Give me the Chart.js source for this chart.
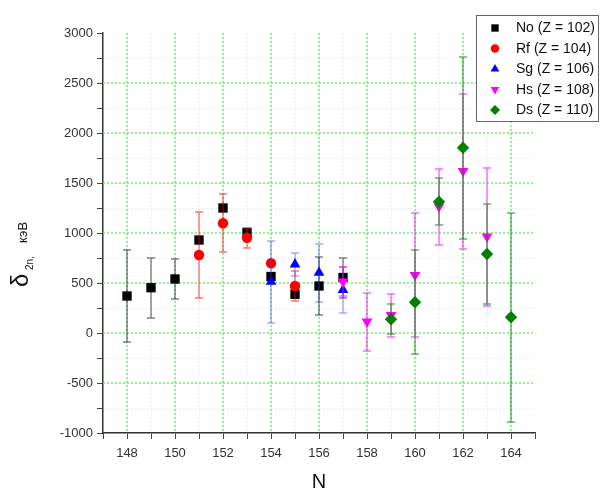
<!DOCTYPE html>
<html>
<head>
<meta charset="utf-8">
<script src="https://cdn.jsdelivr.net/npm/chart.js@4/dist/chart.umd.min.js"></script>
<style>
body { margin: 0; background: #fff; }
canvas { display: block; }
</style>
</head>
<body>
<canvas id="chart" width="601" height="490"></canvas>
<script>
// data (N, delta_2n in keV, error)
var labels = ["No (Z = 102)", "Rf (Z = 104)", "Sg (Z = 106)", "Hs (Z = 108)", "Ds (Z = 110)"];

var noN = [148, 149, 150, 151, 152, 153, 154, 155, 156, 157];
var noVal = [370, 453, 540, 930, 1250, 1005, 565, 387, 470, 555];
var noErr = [460, 300, 200, 0, 0, 0, 0, 0, 290, 200];

var rfN = [151, 152, 153, 154, 155];
var rfVal = [780, 1097, 953, 697, 470];
var rfErr = [430, 290, 100, 0, 150];

var sgN = [154, 155, 156, 157];
var sgVal = [513, 687, 603, 430];
var sgErr = [410, 115, 290, 230];

var hsN = [157, 158, 159, 160, 161, 162, 163];
var hsVal = [513, 113, 180, 580, 1265, 1620, 965];
var hsErr = [145, 290, 215, 620, 380, 775, 690];

var dsN = [159, 160, 161, 162, 163, 164];
var dsVal = [137, 307, 1313, 1853, 790, 157];
var dsErr = [150, 520, 235, 910, 500, 1045];

var xTicks = [148, 150, 152, 154, 156, 158, 160, 162, 164];
var yTicks = [-1000, -500, 0, 500, 1000, 1500, 2000, 2500, 3000];

var colors = ["#000000", "#ff0000", "#0000ff", "#ff00ff", "#007f00"];
var errColors = ["rgba(0,0,0,0.5)", "rgba(255,0,0,0.55)", "rgba(60,60,255,0.45)", "rgba(255,0,255,0.6)", "rgba(0,130,0,0.6)"];
var styles = ["rect", "circle", "triangle", "triangle", "rectRot"];
var rotations = [0, 0, 0, 180, 0];
var radii = [6.6, 5.2, 6.2, 6.2, 6.2];

var allN = [noN, rfN, sgN, hsN, dsN];
var allVal = [noVal, rfVal, sgVal, hsVal, dsVal];
var allErr = [noErr, rfErr, sgErr, hsErr, dsErr];

function pts(ns, vs) {
  return ns.map(function (n, i) { return { x: n, y: vs[i] }; });
}

var datasets = labels.map(function (lab, i) {
  return {
    label: lab,
    data: pts(allN[i], allVal[i]),
    errs: allErr[i],
    errColor: errColors[i],
    pointStyle: styles[i],
    rotation: rotations[i],
    pointRadius: radii[i],
    backgroundColor: colors[i],
    borderColor: colors[i],
    borderWidth: 0,
    order: 5 - i
  };
});

Chart.defaults.font.family = "'Liberation Sans', Arial, sans-serif";
Chart.defaults.color = "#333";

var green = "#72ee72";
var minor = "rgba(0,0,0,0.07)";

function drawMarker(ctx, style, x, y, r, rot) {
  ctx.beginPath();
  if (style === "rect") {
    var s = r * Math.SQRT1_2;
    ctx.rect(x - s, y - s, 2 * s, 2 * s);
  } else if (style === "circle") {
    ctx.arc(x, y, r, 0, Math.PI * 2);
  } else if (style === "triangle") {
    var a = rot ? Math.PI / 2 : -Math.PI / 2;
    for (var k = 0; k < 3; k++) {
      var t = a + k * 2 * Math.PI / 3;
      if (k === 0) ctx.moveTo(x + r * Math.cos(t), y + r * Math.sin(t));
      else ctx.lineTo(x + r * Math.cos(t), y + r * Math.sin(t));
    }
    ctx.closePath();
  } else {
    ctx.moveTo(x, y - r); ctx.lineTo(x + r, y); ctx.lineTo(x, y + r); ctx.lineTo(x - r, y);
    ctx.closePath();
  }
  ctx.fill();
}

// grid lines from the scales' own ticks: green dashed majors, faint minors
var gridLines = {
  id: "gridLines",
  beforeDatasetsDraw: function (chart) {
    var ctx = chart.ctx, a = chart.chartArea;
    var xs = chart.scales.x, ys = chart.scales.y;
    ctx.save();
    ctx.setLineDash([2, 2]);
    xs.ticks.forEach(function (t) {
      if (t.value <= xs.min || t.value >= xs.max) return;
      var major = xTicks.indexOf(t.value) >= 0;
      var x = Math.round(xs.getPixelForValue(t.value)) + (major ? 0 : 0.5);
      ctx.lineWidth = major ? 1.5 : 1;
      ctx.strokeStyle = major ? green : minor;
      ctx.beginPath(); ctx.moveTo(x, a.top); ctx.lineTo(x, a.bottom); ctx.stroke();
    });
    ys.ticks.forEach(function (t) {
      if (t.value <= ys.min || t.value >= ys.max) return;
      var major = yTicks.indexOf(t.value) >= 0;
      var y = Math.round(ys.getPixelForValue(t.value)) + (major ? 0 : 0.5);
      ctx.lineWidth = major ? 1.5 : 1;
      ctx.strokeStyle = major ? green : minor;
      ctx.beginPath(); ctx.moveTo(a.left, y); ctx.lineTo(a.right, y); ctx.stroke();
    });
    ctx.restore();
  }
};

var errorBars = {
  id: "errorBars",
  beforeDatasetDraw: function (chart, args) {
    var ds = chart.data.datasets[args.index];
    var ctx = chart.ctx, xs = chart.scales.x, ys = chart.scales.y;
    ctx.save();
    ctx.strokeStyle = ds.errColor;
    ctx.lineWidth = 1.4;
    ds.data.forEach(function (p, j) {
      var e = ds.errs[j];
      if (!e) return;
      var x = Math.round(xs.getPixelForValue(p.x));
      var yt = Math.round(ys.getPixelForValue(p.y + e));
      var yb = Math.round(ys.getPixelForValue(p.y - e));
      ctx.beginPath();
      ctx.moveTo(x, yt); ctx.lineTo(x, yb);
      ctx.moveTo(x - 4, yt); ctx.lineTo(x + 4, yt);
      ctx.moveTo(x - 4, yb); ctx.lineTo(x + 4, yb);
      ctx.stroke();
    });
    ctx.restore();
  }
};

var decorations = {
  id: "decorations",
  afterDraw: function (chart) {
    var ctx = chart.ctx;
    ctx.save();
    // legend box
    ctx.fillStyle = "#fff";
    ctx.fillRect(476.5, 15.5, 122, 106);
    ctx.strokeStyle = "#666";
    ctx.lineWidth = 1;
    ctx.strokeRect(476.5, 15.5, 122, 106);
    var rowY = [28, 48.5, 69, 89.5, 110];
    var legR = [5.2, 4.2, 5, 5, 5];
    labels.forEach(function (lab, i) {
      ctx.fillStyle = colors[i];
      drawMarker(ctx, styles[i], 495, rowY[i], legR[i], rotations[i]);
      ctx.fillStyle = "#111";
      ctx.font = "14px 'Liberation Sans', Arial, sans-serif";
      ctx.textAlign = "left";
      ctx.textBaseline = "middle";
      ctx.fillText(lab, 516, rowY[i] + 0.5);
    });
    // x title
    ctx.fillStyle = "#111";
    ctx.font = "20px 'Liberation Sans', Arial, sans-serif";
    ctx.textAlign = "center";
    ctx.textBaseline = "alphabetic";
    ctx.fillText("N", 319, 488);
    // y title, rotated
    ctx.translate(28, 287);
    ctx.rotate(-Math.PI / 2);
    ctx.textAlign = "left";
    ctx.font = "24px 'Liberation Sans', Arial, sans-serif";
    ctx.fillText("\u03b4", 0, 0);
    ctx.font = "10px 'Liberation Sans', Arial, sans-serif";
    ctx.fillText("2n,", 17, 5);
    ctx.font = "13px 'Liberation Sans', Arial, sans-serif";
    ctx.fillText("\u043a\u044d\u0412", 44, -1);
    ctx.restore();
  }
};

new Chart(document.getElementById("chart"), {
  type: "scatter",
  data: { datasets: datasets },
  plugins: [gridLines, errorBars, decorations],
  options: {
    responsive: false,
    animation: false,
    layout: { padding: { top: 33, right: 66, left: 0, bottom: 0 } },
    plugins: { legend: { display: false }, tooltip: { enabled: false } },
    scales: {
      x: {
        type: "linear",
        min: 147,
        max: 165,
        afterFit: function (s) { s.height = 57; },
        ticks: {
          stepSize: 1,
          autoSkip: false,
          maxRotation: 0,
          padding: 7,
          color: "#333",
          font: { size: 13 },
          callback: function (v) { return xTicks.indexOf(v) >= 0 ? String(v) : ""; }
        },
        grid: {
          drawOnChartArea: false,
          tickColor: "#444",
          tickLength: 6,
          tickWidth: 1
        },
        border: { display: true, color: "#333", width: 1.5 }
      },
      y: {
        type: "linear",
        min: -1000,
        max: 3000,
        afterFit: function (s) { s.width = 103; },
        ticks: {
          stepSize: 250,
          autoSkip: false,
          padding: 4,
          color: "#333",
          font: { size: 13 },
          callback: function (v) { return yTicks.indexOf(v) >= 0 ? String(v) : ""; }
        },
        grid: {
          drawOnChartArea: false,
          tickColor: "#444",
          tickLength: 6,
          tickWidth: 1
        },
        border: { display: true, color: "#333", width: 1.5 }
      }
    }
  }
});
</script>
</body>
</html>
